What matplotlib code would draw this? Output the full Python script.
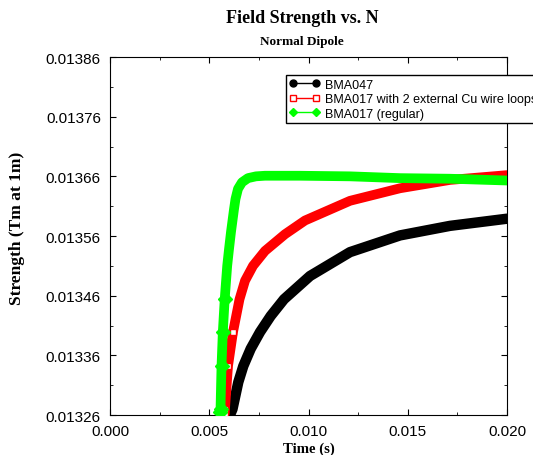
import matplotlib
matplotlib.use("Agg")
import matplotlib.pyplot as plt
from matplotlib.lines import Line2D

# time (s) and strength (Tm at 1m)
t_bma047 = [0.006070, 0.006171, 0.006463, 0.006715, 0.007088, 0.007557, 0.008096,
            0.008766, 0.010076, 0.012091, 0.014610, 0.017128, 0.020000]
s_bma047 = [0.013262, 0.013270, 0.013315, 0.013342, 0.013371, 0.013399, 0.013426,
            0.013454, 0.013493, 0.013533, 0.013561, 0.013577, 0.013589]

t_cu = [0.005778, 0.005793, 0.005945, 0.006196, 0.006524, 0.006801, 0.007204,
        0.007809, 0.008816, 0.009824, 0.012091, 0.014610, 0.017128, 0.020000]
s_cu = [0.013262, 0.013270, 0.013342, 0.013399, 0.013454, 0.013485, 0.013510,
        0.013535, 0.013563, 0.013586, 0.013619, 0.013640, 0.013654, 0.013662]

t_reg = [0.005557, 0.005567, 0.005617, 0.005683, 0.005778, 0.005904, 0.005995,
         0.006096, 0.006247, 0.006322, 0.006448, 0.006650, 0.006952, 0.007355,
         0.007809, 0.009572, 0.012091, 0.014610, 0.017128, 0.020000]
s_reg = [0.013265, 0.013270, 0.013342, 0.013399, 0.013454, 0.013510, 0.013538,
         0.013567, 0.013605, 0.013622, 0.013639, 0.013650, 0.013657, 0.013660,
         0.013661, 0.013661, 0.013660, 0.013657, 0.013656, 0.013653]

labels = ["BMA047", "BMA017 with 2 external Cu wire loops", "BMA017 (regular)"]
xticks = [0.000, 0.005, 0.010, 0.015, 0.020]
yticks = [0.01326, 0.01336, 0.01346, 0.01356, 0.01366, 0.01376, 0.01386]

fig = plt.figure(figsize=(5.33, 4.56), dpi=100)
ax = fig.add_axes([0.2064, 0.0877, 0.7448, 0.7851])

# dense markers in the original merge into a thick band
ax.plot(t_bma047, s_bma047, color="black", lw=7.5, solid_capstyle="round",
        solid_joinstyle="round", zorder=2)
ax.plot(t_cu, s_cu, color="#ff0000", lw=7, solid_capstyle="round",
        solid_joinstyle="round", zorder=3)
ax.plot(t_cu[:4], s_cu[:4], ls="none", marker="s", markersize=5,
        mfc="white", mec="#ff0000", mew=1, zorder=3)
ax.plot(t_reg, s_reg, color="#00ff00", lw=7, solid_capstyle="round",
        solid_joinstyle="round", zorder=4)
ax.plot(t_reg[:5], s_reg[:5], ls="none", marker="D", markersize=7,
        color="#00ff00", zorder=4)

ax.set_xlim(0, 0.02)
ax.set_ylim(0.01326, 0.01386)
ax.set_xticks(xticks)
ax.set_xticklabels(["%.3f" % v for v in xticks])
ax.set_yticks(yticks)
ax.set_yticklabels(["%.5f" % v for v in yticks])
ax.set_xticks([0.0025, 0.0075, 0.0125, 0.0175], minor=True)
ax.set_yticks([0.01331, 0.01341, 0.01351, 0.01361, 0.01371, 0.01381], minor=True)
ax.tick_params(which="both", direction="in", top=True, right=True, pad=6.5,
               labelsize=11)
ax.tick_params(which="major", length=4)
ax.tick_params(which="minor", length=2.5)
for lab in ax.get_xticklabels() + ax.get_yticklabels():
    lab.set_family("Liberation Sans")

ax.set_xlabel("Time (s)", family="Liberation Serif", fontweight="bold", fontsize=10.6)
ax.xaxis.set_label_coords(0.5, -0.0754)
ax.set_ylabel("Strength (Tm at 1m)", family="Liberation Serif", fontweight="bold",
              fontsize=12.5)
ax.yaxis.set_label_coords(-0.214, 0.525)

fig.text(0.567, 0.9605, "Field Strength vs. N", family="Liberation Serif",
         fontweight="bold", fontsize=13, ha="center", va="center")
fig.text(0.567, 0.9079, "Normal Dipole", family="Liberation Serif",
         fontweight="bold", fontsize=9.5, ha="center", va="center")

handles = [
    Line2D([], [], color="black", lw=1, marker="o", markersize=5),
    Line2D([], [], color="#ff0000", lw=1, marker="s", markersize=4,
           mfc="white", mec="#ff0000"),
    Line2D([], [], color="#00ff00", lw=1, marker="D", markersize=4.5),
]
leg = ax.legend(handles, labels, loc="upper left", bbox_to_anchor=(0.443, 0.95),
                borderaxespad=0, fancybox=False, framealpha=1, edgecolor="black",
                numpoints=2, handlelength=2.4, handletextpad=0.45,
                labelspacing=0.2, borderpad=0.3,
                prop={"family": "Liberation Sans", "size": 9})
leg.get_frame().set_linewidth(1)

fig.savefig("out.png", dpi=100)
